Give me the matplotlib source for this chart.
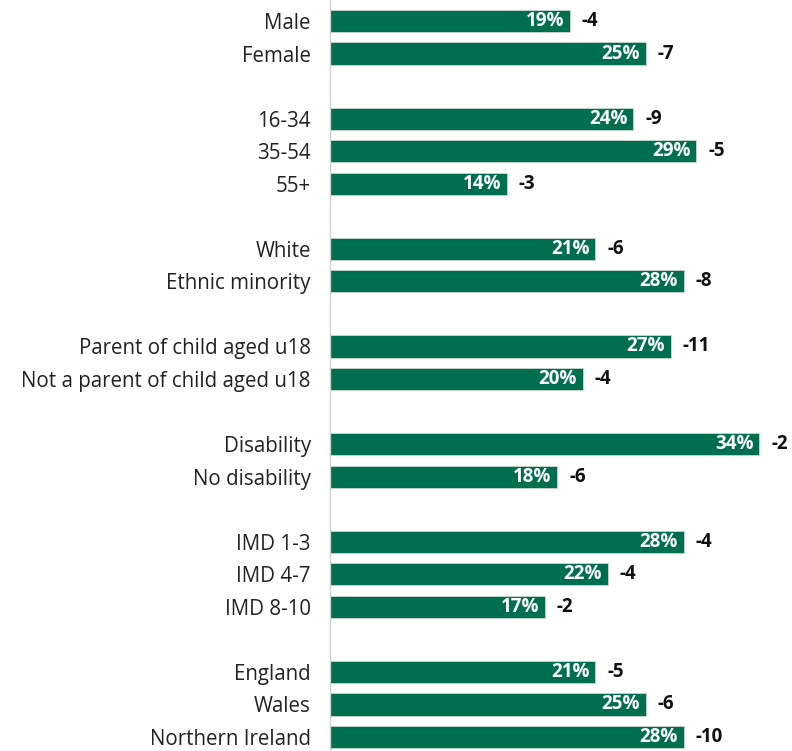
import matplotlib

matplotlib.use("Agg")
import matplotlib.pyplot as plt

# one list per group; an empty row is left between groups
groups = [
    ["Male", "Female"],
    ["16-34", "35-54", "55+"],
    ["White", "Ethnic minority"],
    ["Parent of child aged u18", "Not a parent of child aged u18"],
    ["Disability", "No disability"],
    ["IMD 1-3", "IMD 4-7", "IMD 8-10"],
    ["England", "Wales", "Northern Ireland"],
]
values = [
    [19, 25],
    [24, 29, 14],
    [21, 28],
    [27, 20],
    [34, 18],
    [28, 22, 17],
    [21, 25, 28],
]
changes = [
    [-4, -7],
    [-9, -5, -3],
    [-6, -8],
    [-11, -4],
    [-2, -6],
    [-4, -4, -2],
    [-5, -6, -10],
]

GREEN = "#006f4f"
plt.rcParams["font.family"] = ["Open Sans", "DejaVu Sans"]

labels, vals, chg, pos = [], [], [], []
row = 0
for g, v, c in zip(groups, values, changes):
    for name, val, d in zip(g, v, c):
        labels.append(name)
        vals.append(val)
        chg.append(d)
        pos.append(row)
        row += 1
    row += 1  # gap between groups
last = row - 2

fig = plt.figure(figsize=(7.92, 7.51), dpi=100)
ax = fig.add_axes([0.417, 0.0, 0.583, 1.0])
ax.barh(pos, vals, height=0.68, color=GREEN, edgecolor="#c8d8d0", linewidth=0.6)

for y, v, d in zip(pos, vals, chg):
    ax.text(v - 0.45, y, f"{v}%", ha="right", va="center", color="white",
            fontsize=13.5, fontweight="bold")
    ax.text(v + 0.95, y, f"{d}", ha="left", va="center", color="#111111",
            fontsize=13.5, fontweight="bold")

ax.set_yticks(pos, labels, fontsize=14.8, color="#222222")
ax.tick_params(axis="y", length=0, pad=14)
ax.set_xticks([])
ax.set_xlim(0, 36.6)
ax.set_ylim(last + 0.43, -0.645)
for s in ("top", "right", "bottom"):
    ax.spines[s].set_visible(False)
ax.spines["left"].set_color("#d0d0d0")
ax.spines["left"].set_linewidth(1.0)

fig.savefig("out.png", dpi=100)
